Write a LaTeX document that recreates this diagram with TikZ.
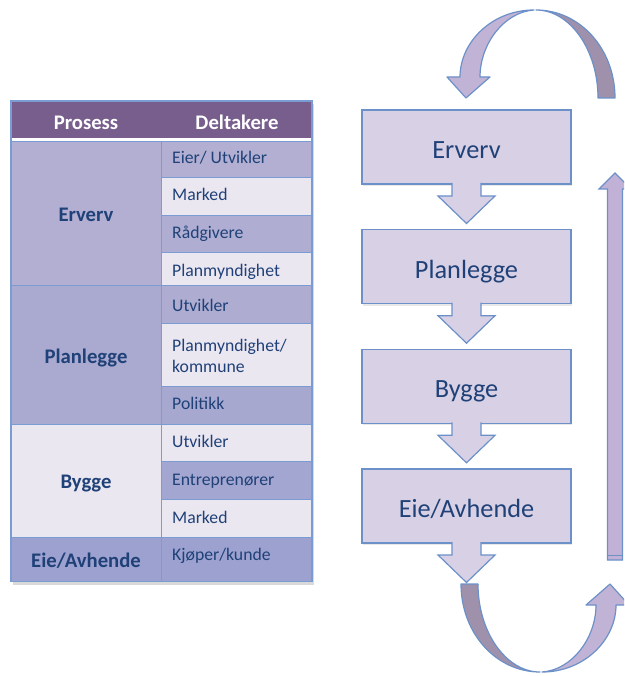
\documentclass[tikz,border=0pt]{standalone}
\usepackage{fontspec}
\setmainfont{Carlito}
\usetikzlibrary{calc,shadows}

\definecolor{headc}{HTML}{775E8D}
\definecolor{gridc}{HTML}{7B9CD2}
\definecolor{bordc}{HTML}{6C91C9}
\definecolor{txtc}{HTML}{1F4178}
\definecolor{boxc}{HTML}{D8D0E4}
\definecolor{ltc}{HTML}{EBE7F1}
\definecolor{dkA}{HTML}{B2AFD2}
\definecolor{dkA2}{HTML}{AFAED2}
\definecolor{dkB}{HTML}{AAA9D0}
\definecolor{dkB1}{HTML}{AEADD1}
\definecolor{dkB2}{HTML}{A6A8D0}
\definecolor{dkC}{HTML}{A3A6D0}
\definecolor{dkE}{HTML}{9CA1CF}
\definecolor{loopLight}{HTML}{C1B3D5}
\definecolor{loopDark}{HTML}{9F91AB}
\definecolor{riseC}{HTML}{C1B1D6}

\begin{document}
\begin{tikzpicture}[x=1pt,y=-1pt,
  softshadow/.style={drop shadow={opacity=0.18, shadow xshift=1pt, shadow yshift=-2pt}},
  cellbase/.style={draw=gridc, line width=0.9pt, inner sep=0pt, outer sep=0pt,
    anchor=north west, rectangle},
  cellL/.style={cellbase, minimum width=150pt},
  cellR/.style={cellbase, minimum width=151pt},
  hdtxt/.style={text=white, font=\bfseries\fontsize{20.7}{24}\selectfont,
    anchor=base, inner sep=0pt},
  proctxt/.style={text=txtc, font=\bfseries\fontsize{20.7}{24}\selectfont,
    anchor=base, inner sep=0pt},
  parttxt/.style={text=txtc, font=\fontsize{17.7}{20}\selectfont,
    anchor=base west, inner sep=0pt},
  procbox/.style={draw=bordc, fill=boxc, line width=1.2pt, inner sep=0pt, outer sep=0pt,
    minimum width=209pt, minimum height=74pt, text=txtc,
    font=\fontsize{26.3}{30}\selectfont, text height=23pt, text depth=0pt, softshadow},
  downarr/.style={draw=bordc, fill=boxc, line width=1.2pt, line join=miter},
  loopedge/.style={draw=bordc, line width=1.2pt, line join=round},
]
\fill[white] (0,0) rectangle (624,676);
\clip (0,0) rectangle (624,676);

% ---------- table ----------
\fill[black, opacity=0.15] (12.5,104) rectangle (314,585);
\node[cellbase, draw=none, fill=headc, minimum width=301pt, minimum height=37.3pt] (head) at (11,101) {};

\node[cellL, fill=dkA,  minimum height=144pt]   (pErverv) at (11,141) {};
\node[cellL, fill=dkB,  minimum height=139pt]   (pPlan)   at (11,285) {};
\node[cellL, fill=ltc,  minimum height=113.3pt] (pBygge)  at (11,424) {};
\node[cellL, fill=dkE,  minimum height=44.4pt]  (pEie)    at (11,537.3) {};

\node[cellR, fill=dkA,  minimum height=36.3pt] (r1)  at (161,141) {};
\node[cellR, fill=ltc,  minimum height=37.7pt] (r2)  at (161,177.3) {};
\node[cellR, fill=dkA2, minimum height=37.7pt] (r3)  at (161,215) {};
\node[cellR, fill=ltc,  minimum height=32.3pt] (r4)  at (161,252.7) {};
\node[cellR, fill=dkB1, minimum height=38.3pt] (r5)  at (161,285) {};
\node[cellR, fill=ltc,  minimum height=62.7pt] (r6)  at (161,323.3) {};
\node[cellR, fill=dkB2, minimum height=38pt]   (r7)  at (161,386) {};
\node[cellR, fill=ltc,  minimum height=37.7pt] (r8)  at (161,424) {};
\node[cellR, fill=dkC,  minimum height=37.6pt] (r9)  at (161,461.7) {};
\node[cellR, fill=ltc,  minimum height=38pt]   (r10) at (161,499.3) {};
\node[cellR, fill=dkE,  minimum height=44.4pt] (r11) at (161,537.3) {};

\fill[white] (11,138.3) rectangle (312,141);
\draw[gridc, line width=1.2pt] (11,101) rectangle (312,581.7);

\node[hdtxt] (hP) at (86,129.3) {Prosess};
\node[hdtxt] (hD) at (237,129.3) {Deltakere};

\node[proctxt] (tErverv) at (86,221)   {Erverv};
\node[proctxt] (tPlan)   at (86,363.3) {Planlegge};
\node[proctxt] (tBygge)  at (86,488.3) {Bygge};
\node[proctxt] (tEie)    at (86,567.3) {Eie/Avhende};

\node[parttxt] (d1)  at (172,163.3) {Eier/ Utvikler};
\node[parttxt] (d2)  at (172,200.7) {Marked};
\node[parttxt] (d3)  at (172,238.3) {Rådgivere};
\node[parttxt] (d4)  at (172,276)   {Planmyndighet};
\node[parttxt] (d5)  at (172,311.7) {Utvikler};
\node[parttxt] (d6a) at (172,351.7) {Planmyndighet/};
\node[parttxt] (d6b) at (172,372.3) {kommune};
\node[parttxt] (d7)  at (172,409.3) {Politikk};
\node[parttxt] (d8)  at (172,447.3) {Utvikler};
\node[parttxt] (d9)  at (172,485)   {Entreprenører};
\node[parttxt] (d10) at (172,523)   {Marked};
\node[parttxt] (d11) at (172,560.7) {Kjøper/kunde};

% ---------- process column ----------
\node[procbox] (b1) at (466.5,147)   {Erverv};
\node[procbox] (b2) at (466.5,266.7) {Planlegge};
\node[procbox] (b3) at (466.5,386.3) {Bygge};
\node[procbox] (b4) at (466.5,506)   {Eie/Avhende};

\foreach \b in {b1,b2,b3,b4}
  \path[downarr] ($(\b.south)+(-14.5,-1)$) -- ++(0,13) -- ++(-14,0)
    -- ($(\b.south)+(0,39.5)$) -- ($(\b.south)+(28.5,12)$) -- ++(-14,0) -- ++(0,-13);

% ---------- loop arrows (top one, and the same turned half round) ----------
\foreach \r in {0,180}{
  \begin{scope}[rotate around={\r:(538,341)}]
    \path[loopedge, fill=loopDark]
      (536,10) .. controls (580,10) and (615,49) .. (615,98)
      -- (598,98) .. controls (598,50) and (570,10) .. (536,10) -- cycle;
    \path[loopedge, fill=loopLight]
      (534,10) .. controls (492,10) and (460,42) .. (460,77)
      -- (447,77) -- (466,98) -- (490,77) -- (480,77)
      .. controls (480,44) and (504,12) .. (534,10) -- cycle;
  \end{scope}
}

% ---------- rising arrow on the right ----------
\path[loopedge, line join=miter, fill=riseC]
  (607.5,560) -- (607.5,189) -- (599,189) -- (615,173) -- (631,189)
  -- (622.5,189) -- (622.5,560) -- cycle;
\draw[bordc, line width=1.2pt] (607.5,555.5) -- (622.5,555.5);
\end{tikzpicture}
\end{document}
